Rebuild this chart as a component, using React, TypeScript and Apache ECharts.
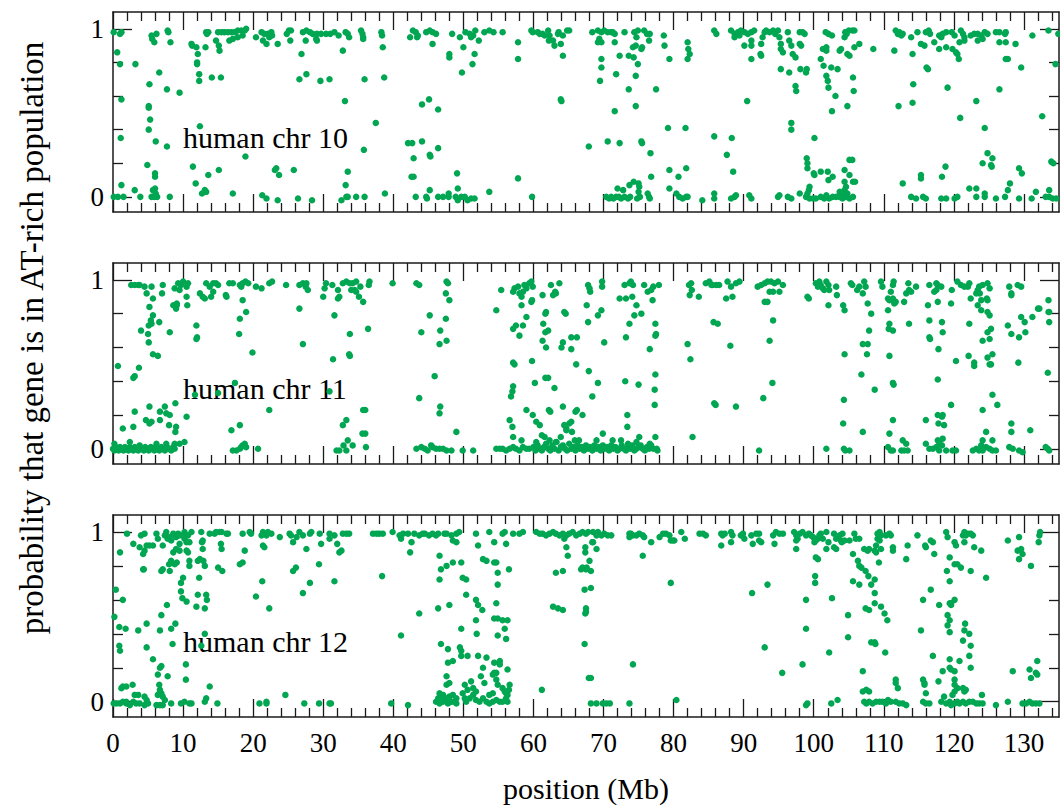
import React, { useEffect, useRef } from 'react';
import * as echarts from 'echarts';

const xMajorTicks = [0, 10, 20, 30, 40, 50, 60, 70, 80, 90, 100, 110, 120, 130];
const xMinorTicks = [2, 4, 6, 8, 12, 14, 16, 18, 22, 24, 26, 28, 32, 34, 36, 38, 42, 44, 46, 48, 52, 54, 56, 58, 62, 64, 66, 68, 72, 74, 76, 78, 82, 84, 86, 88, 92, 94, 96, 98, 102, 104, 106, 108, 112, 114, 116, 118, 122, 124, 126, 128, 132, 134];
const yMajorTicks = [0, 1];
const yMinorTicks = [0.2, 0.4, 0.6, 0.8];
const panelLabels = ['human chr 10', 'human chr 11', 'human chr 12'];
const xTitle = 'position (Mb)';
const yTitle = 'probability that gene is in AT-rich population';

const chr10: number[][] = [
[0.1,0.98],[1.0,0.97],[1.2,0.98],[0.6,0.86],[1.0,0.79],[3.2,0.79],[1.2,0.58],[1.1,0.35],
[0.1,0.0],[0.7,0.0],[1.5,0.0],[1.2,0.07],[3.1,0.04],[3.9,0.0],
[4.9,0.19],[5.2,0.67],[5.1,0.54],[5.1,0.53],[5.3,0.46],[5.1,0.40],
[5.5,0.96],[5.6,0.94],[5.9,0.92],[6.2,0.97],[6.6,0.74],[6.1,0.33],
[6.0,0.14],[6.0,0.12],[5.7,0.04],[6.0,0.05],[6.1,0.02],[5.5,0.0],[5.9,0.0],[6.3,0.0],
[7.8,0.99],[7.9,0.98],[8.2,0.92],[7.7,0.64],[7.7,0.30],[8.1,0.0],[9.5,0.62],
[11.2,0.91],[11.3,0.90],[11.9,0.89],[12.1,0.85],[12.0,0.80],[12.0,0.79],[12.3,0.73],[12.3,0.69],[12.4,0.42],
[13.2,0.89],[13.3,0.98],[13.6,0.98],[13.4,0.97],
[11.4,0.18],[11.8,0.08],[12.7,0.02],[13.1,0.04],[13.3,0.03],[13.6,0.13],
[14.1,0.71],[15.4,0.71],[14.7,0.93],[15.1,0.90],[15.2,0.87],
[15.0,0.98],[15.5,0.98],[15.9,0.98],[16.4,0.98],[16.9,0.98],[17.4,0.98],[17.8,0.99],[18.3,0.99],[18.8,0.99],[19.0,1.0],
[16.6,0.93],[17.1,0.94],[17.8,0.95],[18.5,0.96],
[15.1,0.16],[17.1,0.02],[18.9,0.24],[20.4,0.95],
[21.2,0.98],[21.6,0.97],[22.1,0.97],[22.6,0.98],[22.3,0.95],[22.7,0.96],[21.4,0.93],[21.9,0.91],[23.5,0.91],
[23.1,0.16],[23.3,0.17],[23.7,0.13],[21.3,0.01],[21.9,-0.01],[23.5,-0.02],
[25.1,0.99],[25.4,0.99],[24.8,0.97],[25.3,0.93],[25.8,0.16],[26.4,-0.01],
[26.9,0.85],[26.6,0.70],[27.6,0.73],
[27.1,0.98],[27.6,0.99],[28.1,0.98],[28.5,0.97],[29.1,0.97],[29.7,0.97],[30.4,0.97],[31.0,0.97],[31.6,0.98],[32.2,0.96],
[27.5,0.93],[29.0,0.94],[29.1,0.93],[29.6,0.69],[30.9,0.70],[28.4,-0.02],
[32.8,0.87],[33.1,0.57],[33.2,0.98],[33.5,0.97],[33.7,0.95],
[33.5,0.15],[33.2,0.07],[32.6,-0.02],[33.3,0.0],[33.5,0.0],[34.7,0.0],
[35.4,0.99],[35.6,0.97],[35.7,0.95],[35.7,0.94],[35.9,0.70],[35.8,0.28],[35.9,0.0],[37.5,0.44],
[38.3,0.98],[38.4,0.96],[38.5,0.89],[38.7,0.71],[38.8,0.02],
[42.4,0.95],[42.8,0.99],[43.2,0.98],[43.5,0.96],[43.4,0.95],
[42.1,0.32],[42.7,0.32],[42.9,0.23],[42.6,0.12],[42.9,0.12],[43.2,0.0],
[44.1,0.55],[45.1,0.58],[46.4,0.52],[44.1,0.33],[45.2,0.25],[45.3,0.24],[46.4,0.29],
[44.7,0.98],[45.2,0.99],[45.6,0.98],[46.1,0.97],[45.6,0.91],
[44.7,0.0],[44.8,-0.01],[45.2,0.04],[46.4,0.0],[47.1,0.0],[47.9,0.0],[47.9,0.02],
[48.0,0.85],[48.0,0.83],[48.4,0.97],[49.1,0.14],[49.2,0.05],
[48.9,0.0],[49.2,-0.02],[49.7,0.0],[50.2,0.0],[50.6,-0.02],[51.1,-0.01],[51.6,-0.01],
[49.5,0.95],[49.8,0.74],[50.0,0.89],[50.3,0.98],[50.9,0.97],[51.4,0.96],[51.7,0.99],[51.1,0.95],
[51.3,0.79],[51.6,0.85],[52.2,0.93],[53.0,0.98],[53.7,0.99],[54.3,0.98],[53.7,0.03],
[55.6,0.98],[57.8,0.92],[57.8,0.82],[57.8,0.11],[59.8,0.0],
[59.7,0.99],[59.9,0.98],[60.6,0.98],[60.9,0.97],[61.3,0.97],[61.6,0.96],[62.1,0.99],[62.3,0.96],[62.2,0.93],[62.8,0.93],[63.0,0.90],[63.5,0.97],[63.6,0.98],[63.9,0.91],[64.2,0.96],[64.8,0.99],[65.1,0.99],
[64.2,0.84],[63.9,0.58],[64.0,0.57],[67.9,0.30],
[68.4,0.98],[69.2,0.99],[69.7,0.98],[70.1,0.99],[70.6,0.98],[71.1,0.98],[71.3,0.98],[71.6,0.97],[69.4,0.94],[69.7,0.92],[69.2,0.92],[71.6,0.92],
[69.7,0.82],[69.7,0.77],[69.5,0.69],[70.6,0.33],[72.3,0.32],[71.6,0.51],[71.8,0.73],[72.3,0.84],[73.0,0.98],
[73.6,0.84],[74.3,0.83],[74.2,0.89],[74.6,0.90],[74.4,0.98],[74.9,0.99],[74.7,0.95],
[73.6,0.64],[74.6,0.72],[74.6,0.54],[74.9,0.79],[75.4,0.88],[75.5,0.89],
[75.8,0.99],[76.2,0.97],[76.6,0.97],[76.5,0.93],[75.4,0.33],[75.5,0.32],[76.7,0.26],[76.8,0.12],[77.5,0.64],
[78.6,0.96],[78.7,0.90],[79.4,0.82],[79.2,0.41],[79.4,0.16],[79.4,0.05],[80.7,0.12],[81.8,0.17],[81.7,0.41],
[82.0,0.92],[82.1,0.88],[82.3,0.85],[82.0,0.82],
[85.8,0.36],[85.8,0.99],[86.1,0.97],[88.3,0.35],[87.6,0.25],[88.5,0.15],
[88.2,0.99],[88.7,0.97],[89.2,0.98],[89.6,0.99],[89.4,0.96],[88.7,0.95],[90.1,0.90],[90.5,0.57],
[90.1,0.98],[90.6,0.97],[91.1,0.98],[91.5,0.99],[91.1,0.93],[91.1,0.90],[91.1,0.82],
[92.5,0.91],[92.7,0.95],[93.0,0.98],[92.5,0.84],[92.4,0.85],
[93.2,0.99],[93.7,0.98],[94.2,0.99],[94.5,0.97],[94.9,0.99],[95.1,0.95],[95.3,0.91],[95.3,0.88],[95.6,0.86],[96.3,0.98],[96.5,0.93],[96.8,0.90],[97.0,0.85],[97.4,0.83],
[95.3,0.76],[96.5,0.74],[97.4,0.66],[97.5,0.63],[96.8,0.44],[96.8,0.40],
[98.0,0.98],[98.4,0.98],[98.7,0.97],[98.2,0.90],[98.0,0.91],[98.1,0.76],[99.0,0.76],[98.9,0.74],
[100.1,0.35],[99.0,0.23],[99.1,0.20],[99.1,0.17],[100.0,0.14],[100.1,0.13],[101.0,0.15],[102.0,0.15],[102.1,0.10],[102.7,0.12],
[99.4,0.06],[99.3,0.04],[99.1,0.02],[98.9,0.0],[99.4,-0.01],[99.9,-0.01],[100.3,-0.01],[101.0,0.0],[101.5,-0.01],[101.8,0.01],[102.2,-0.01],[102.7,0.0],[103.2,0.0],[103.7,0.0],[104.1,-0.01],[104.6,0.0],[105.1,-0.01],[105.6,0.0],[104.4,0.09],[104.6,0.06],[104.4,0.04],[103.7,0.03],[104.1,0.02],[104.8,0.02],
[105.1,0.22],[105.5,0.22],[104.4,0.16],[105.1,0.13],[105.6,0.09],[105.9,0.09],
[101.0,0.82],[101.4,0.78],[101.8,0.72],[102.0,0.69],[102.1,0.65],[102.5,0.77],[103.1,0.60],[103.4,0.76],[102.6,0.51],
[101.7,0.98],[102.1,0.97],[102.6,0.96],[101.3,0.88],[101.8,0.89],[101.8,0.87],
[103.7,0.87],[103.9,0.88],[104.4,0.95],[104.5,0.98],[105.0,0.99],[105.5,0.99],[105.8,0.99],[104.7,0.97],[104.8,0.85],[105.1,0.84],[105.8,0.89],[106.5,0.91],[105.6,0.71],[105.7,0.63],[104.8,0.54],
[108.5,0.88],[111.5,0.87],
[111.7,0.99],[112.2,0.98],[112.0,0.97],[112.5,0.96],[112.7,0.97],[112.1,0.54],[112.7,0.08],
[113.9,0.95],[114.1,0.85],[114.2,0.67],[114.1,0.56],
[114.8,0.98],[115.3,0.91],[115.8,0.90],[116.0,0.98],[116.4,0.99],[116.6,0.97],[116.3,0.76],[116.1,0.77],[115.3,0.13],[115.3,0.11],
[113.9,0.0],[114.6,-0.01],[115.6,0.0],[116.0,-0.01],
[117.2,0.92],[117.9,0.96],[118.4,0.97],[118.2,0.95],[118.9,0.98],[117.9,0.88],[118.9,0.89],[119.1,0.65],[118.3,0.12],[118.8,0.18],[118.2,-0.01],[118.9,-0.01],
[119.7,0.98],[120.1,0.96],[119.8,0.88],[120.3,0.86],[120.5,0.85],[120.7,0.82],[121.0,0.99],[121.3,0.97],[121.5,0.95],[120.8,0.92],[121.5,0.93],[120.9,0.47],[120.1,-0.01],[120.5,0.0],
[122.2,0.05],[123.2,0.05],[123.2,0.0],
[122.4,0.96],[122.9,0.97],[123.4,0.97],[123.9,0.96],[124.4,0.98],[124.8,0.97],[124.1,0.94],[123.4,0.93],[123.2,0.57],[124.4,0.41],[124.8,0.26],[125.5,0.23],[124.1,0.20],[125.3,0.19],[125.4,0.18],[124.4,0.02],[124.4,0.0],
[126.0,0.98],[126.5,0.98],[127.4,0.98],[127.3,0.97],[126.5,0.92],[127.4,0.92],[128.8,0.91],[127.7,0.82],[127.4,0.82],[126.5,0.64],[126.0,-0.01],[127.3,0.0],[128.0,0.08],[127.7,0.04],[129.3,0.17],[129.7,0.14],
[129.6,0.77],[129.3,-0.01],
[131.2,0.96],[131.1,-0.01],[131.7,0.03],[132.6,0.48],[133.6,0.04],[133.9,0.21],[134.2,0.20],[133.6,0.0],[134.1,-0.01],[134.6,-0.01],[133.1,0.0],[134.5,0.79],[133.5,0.99],[134.9,0.97],
[70.4,0.0],[70.8,-0.01],[71.1,0.0],[71.4,-0.01],[71.8,0.0],[72.2,0.0],[72.5,-0.01],[73.0,0.0],[73.5,-0.01],[73.8,0.0],[72.0,0.05],[72.8,0.04],[73.7,0.07],[74.3,0.09],[75.0,0.08],[75.1,0.06],[75.0,0.03],[75.2,0.0],[74.8,-0.01],[76.3,0.02],[76.5,0.0],[76.6,-0.01],
[80.4,0.02],[80.8,0.0],[81.3,-0.01],[81.8,0.0],[82.0,0.0],[84.1,-0.02],[85.8,0.02],[85.8,-0.01],[88.2,-0.01],[88.7,0.0],[88.9,0.01],[90.8,0.01],[91.1,-0.01],[94.9,0.0],[95.1,0.01],[96.3,0.0],[96.8,-0.01],[98.0,0.02]
];

const chr11: number[][] = [
[0.0,0.0],[0.2,-0.01],[0.4,0.01],[0.6,0.0],[0.8,-0.01],[1.0,0.01],[1.2,0.0],[1.5,-0.01],[1.7,0.01],[1.9,0.0],[2.2,-0.01],[2.4,0.01],[2.7,0.0],[2.9,-0.01],[3.1,0.01],[3.4,0.0],[3.6,-0.01],[3.9,0.01],[4.1,0.0],[4.4,-0.01],[4.6,0.01],[4.9,0.0],[5.1,-0.01],[5.4,0.01],[5.6,0.0],[5.9,-0.01],[6.1,0.01],[6.4,0.0],[6.6,-0.01],[6.9,0.01],[7.1,0.0],[7.4,-0.01],[7.7,0.01],[8.0,0.0],[8.3,-0.01],[8.6,0.01],[8.8,0.0],
[0.2,0.03],[2.4,0.04],[3.8,0.02],[6.2,0.03],[7.6,0.03],[8.8,0.03],[9.5,0.03],[10.2,0.04],
[0.7,0.49],[2.9,0.42],[3.1,0.43],[3.7,0.48],[1.4,0.12],[2.9,0.13],[3.1,0.22],
[4.7,0.17],[5.2,0.25],[5.5,0.16],[5.2,0.15],
[6.7,0.22],[6.7,0.17],[7.4,0.25],[7.6,0.21],[8.1,0.20],[8.0,0.14],[8.9,0.27],[8.9,0.10],[9.0,0.13],[10.5,0.19],
[2.6,0.97],[3.1,0.97],[3.6,0.97],[3.8,0.97],
[4.5,0.96],[4.8,0.92],[5.5,0.96],[5.7,0.89],[5.2,0.84],[5.7,0.79],[5.4,0.76],[5.1,0.73],[5.5,0.74],[5.0,0.68],[5.1,0.63],[5.7,0.56],[6.4,0.55],[6.6,0.75],[4.0,0.70],[7.1,0.97],[7.0,0.92],[8.1,0.69],
[8.6,0.85],[8.8,0.95],[9.1,0.86],[9.0,0.83],[9.3,0.98],[9.5,0.94],[9.7,0.97],[10.0,0.99],[10.5,0.96],[10.5,0.90],[10.7,0.98],[10.6,0.85],[9.1,0.85],
[11.9,0.73],[12.0,0.66],[11.9,0.65],
[12.4,0.92],[12.8,0.90],[13.1,0.89],[13.3,0.98],[13.8,0.96],[14.0,0.90],[14.3,0.93],[14.3,0.98],[14.7,0.98],[15.0,0.97],[16.1,0.91],[16.2,0.90],
[11.7,0.32],[15.0,0.33],[16.9,0.11],[18.1,0.14],[16.6,0.98],[17.1,0.98],
[18.1,0.97],[18.3,0.96],[18.5,0.98],[18.9,0.99],[19.3,0.98],[18.5,0.88],[19.0,0.81],[18.1,0.77],[18.0,0.68],
[17.4,0.39],[19.9,0.57],
[17.1,-0.01],[17.6,-0.01],[18.1,0.0],[18.3,0.01],[18.5,0.02],[18.8,0.03],[19.0,0.01],
[20.4,0.96],[21.2,0.95],[20.7,0.0],[22.3,0.98],[22.7,0.99],[22.3,0.23],[24.7,0.97],
[26.6,0.97],[27.1,0.98],[27.6,0.98],[27.5,0.96],[27.8,0.94],[26.6,0.83],[27.1,0.62],
[30.0,0.90],[30.4,0.98],[30.2,0.95],[31.3,0.97],[32.1,0.94],[31.6,0.79],[32.1,0.89],[32.3,0.90],[32.8,0.98],[33.3,0.99],[33.8,0.98],[34.2,0.98],[34.7,0.99],[34.0,0.94],[34.5,0.94],[34.7,0.93],[35.1,0.90],[35.7,0.87],[35.3,0.96],[36.6,0.99],[36.5,0.97],
[31.4,0.53],[33.8,0.68],[33.7,0.56],[33.8,0.55],[36.4,0.71],[30.9,0.34],
[32.8,0.14],[33.3,0.17],[33.5,0.05],[35.6,0.09],[36.0,0.09],[35.7,0.23],[36.0,0.23],[36.1,0.01],[32.9,0.02],[31.9,-0.01],[32.3,-0.01],[33.3,-0.01],[34.2,0.02],
[39.9,0.98],[43.3,0.98],[43.7,0.97],[44.0,0.69],[43.7,0.30],
[45.2,0.79],[45.9,0.43],[46.6,0.62],[46.7,0.70],[46.7,0.25],[46.6,0.21],[47.5,0.77],[47.6,0.64],[47.8,0.98],[47.6,0.99],[47.5,0.92],[48.0,0.88],
[43.3,0.0],[44.0,0.01],[44.5,0.0],[44.9,-0.01],[45.4,0.02],[45.6,0.01],[46.1,0.0],[46.6,0.0],[47.1,0.0],[47.6,-0.01],[48.3,-0.01],[49.0,0.10],[49.9,-0.01],[51.4,-0.01],
[54.7,0.82],[55.4,0.94],
[54.7,0.0],[55.2,0.0],[55.6,0.0],[56.1,-0.01],[56.6,0.0],[57.1,0.01],[57.5,0.0],[58.0,-0.01],[58.5,0.01],[59.0,0.0],[59.4,0.0],
[57.1,0.93],[57.3,0.95],[57.8,0.96],[58.0,0.92],[58.3,0.90],[58.5,0.93],[58.7,0.97],[59.0,0.95],[59.4,0.98],[59.7,0.99],[59.9,0.96],[58.3,0.85],[59.8,0.88],[59.7,0.87],[59.0,0.78],[58.5,0.73],[57.5,0.73],[57.1,0.71],[58.0,0.67],[57.3,0.50],[57.1,0.51],[57.1,0.37],[57.0,0.34],[56.8,0.31],[56.6,0.17],[57.0,0.13],[57.1,0.07],[58.3,0.05],[59.0,0.23],[59.8,0.52],[59.9,0.20],[60.4,0.16],[60.9,0.14],[61.2,0.08],[61.6,0.07],[60.2,0.39],
[61.3,0.91],[61.8,0.81],[62.5,0.97],[62.8,0.91],[63.1,0.93],[63.7,0.98],[61.7,0.80],[61.4,0.74],[61.3,0.64],[61.7,0.69],[61.8,0.60],[62.1,0.70],[61.7,0.42],[62.1,0.42],[63.0,0.36],[62.2,0.23],[62.4,0.22],[63.2,0.92],[64.2,0.25],[64.4,0.81],[64.2,0.63],[64.4,0.14],[64.7,0.12],[65.1,0.15],[65.4,0.16],[65.4,0.59],[65.4,0.66],[66.2,0.66],[66.1,0.50],[66.0,0.22],[66.2,0.23],[67.0,0.20],[67.6,0.85],[67.8,0.75],[67.9,0.46],
[60.0,0.01],[60.3,-0.01],[60.6,0.02],[60.9,0.0],[61.2,-0.01],[61.5,0.01],[61.8,0.03],[62.1,0.0],[62.4,-0.01],[62.7,0.02],[63.0,0.0],[63.3,0.04],[63.6,-0.01],[63.9,0.01],[64.2,0.02],[64.5,0.0],[64.8,-0.01],[65.1,0.03],[65.4,0.0],[65.7,0.01],[66.0,-0.01],[66.3,0.02],[66.6,0.0],[66.9,0.01],[67.2,-0.01],[67.5,0.02],[67.8,0.0],
[60.4,0.04],[62.3,0.05],[63.2,0.04],[63.9,0.07],[65.9,0.05],
[64.6,0.80],[64.0,0.60],[64.7,0.11],[65.5,0.10],[66.5,0.05],
[68.1,0.01],[68.4,-0.01],[68.7,0.02],[69.0,0.0],[69.3,0.01],[69.6,-0.01],[69.9,0.02],[70.2,0.0],[70.5,0.01],[70.8,-0.01],[71.1,0.02],[71.4,0.0],[71.7,0.01],[72.0,-0.01],[72.3,0.0],[72.6,0.02],[72.9,0.0],[73.2,-0.01],[73.5,0.01],[73.8,0.0],[74.1,0.02],[74.4,-0.01],[74.7,0.0],[75.0,0.01],[75.3,0.02],[75.6,0.0],[75.9,-0.01],[76.2,0.01],[76.5,0.0],[76.8,0.02],[77.1,0.0],[77.6,0.0],
[67.8,0.97],[68.0,0.95],[68.1,0.93],[69.8,0.99],[69.8,0.96],[69.2,0.79],[69.7,0.82],[70.1,0.63],[69.2,0.39],[68.4,0.31],
[69.9,0.09],[69.0,0.05],[71.3,0.05],[72.5,0.05],[73.5,0.03],[74.7,0.04],[75.1,0.07],[76.6,0.03],
[72.3,0.89],[73.2,0.89],[73.0,0.97],[73.7,0.98],[73.9,0.99],[74.2,0.97],[74.1,0.90],[74.7,0.85],[75.4,0.80],[74.4,0.79],[73.7,0.74],[73.2,0.66],[73.1,0.40],[73.4,0.20],[73.4,0.13],[75.0,0.38],[75.8,0.97],[76.3,0.93],[76.8,0.94],[77.1,0.96],[77.0,0.88],[77.9,0.97],[77.4,0.74],[77.5,0.68],[77.4,0.67],[76.6,0.59],[77.4,0.44],[77.3,0.35],[77.3,0.26],[77.4,0.07],[77.7,-0.01],
[82.0,0.62],[82.4,0.53],[82.2,0.97],[82.5,0.98],[82.6,0.94],[82.3,0.91],[83.6,0.90],[82.7,0.07],
[84.6,0.98],[85.1,0.99],[85.4,0.97],[85.6,0.97],[86.1,0.97],[86.5,0.97],[85.7,0.75],[86.3,0.74],[85.8,0.27],[86.0,0.26],[87.5,0.89],[87.7,0.99],[88.2,0.96],[88.4,0.90],[88.9,0.98],[89.4,0.99],[88.1,0.61],[88.9,0.25],
[92.2,-0.01],
[92.0,0.96],[92.5,0.97],[93.0,0.98],[93.4,0.99],[93.9,0.99],[94.4,0.98],[94.9,0.99],[95.6,0.97],[93.7,0.93],[94.2,0.93],[95.1,0.93],[93.0,0.87],[93.4,0.87],[94.2,0.76],[93.7,0.64],[94.1,0.39],[92.8,0.30],
[99.1,0.90],[99.3,0.89],
[100.3,0.98],[100.6,0.96],[100.8,0.99],[101.0,0.97],[101.3,0.95],[101.5,0.94],[101.8,0.99],[102.1,0.97],[102.2,0.94],[103.2,0.96],[103.3,0.91],[102.1,0.85],
[101.8,0.0],
[104.2,0.85],[104.4,0.82],[104.4,0.56],[104.3,0.29],[104.2,0.15],[104.3,0.0],[104.5,-0.01],[105.1,-0.01],
[105.3,0.98],[105.5,0.97],[106.2,0.94],[106.5,0.96],[107.0,0.92],[107.2,0.99],[107.4,0.96],[107.7,0.86],[108.2,0.80],[107.9,0.70],[107.0,0.62],[107.7,0.62],[107.6,0.56],[106.8,0.44],[107.0,0.10],[108.7,0.35],
[109.6,0.99],[109.8,0.96],[110.6,0.82],[110.8,0.74],[110.7,0.71],[111.3,0.70],[110.8,0.55],[111.3,0.39],[111.4,0.38],[110.8,0.09],[111.3,0.17],[111.4,0.99],[111.3,0.97],[111.0,0.93],[110.6,0.89],[110.8,0.88],[111.3,0.89],[111.7,0.87],[111.5,0.86],
[110.6,0.01],[111.0,-0.01],[111.3,-0.01],[112.5,-0.01],[112.7,0.05],[113.2,0.03],[113.4,-0.01],[112.9,-0.01],
[112.9,0.87],[113.2,0.92],[113.6,0.94],[113.9,0.93],[113.5,0.98],[114.6,0.96],[113.6,0.74],
[116.5,0.97],[116.3,0.85],[116.5,0.76],[116.5,0.66],[116.6,0.65],[117.8,0.59],[117.7,0.41],[116.0,0.17],[117.7,0.20],[118.4,0.20],[117.8,0.15],[118.6,0.14],[118.3,0.19],[117.7,0.05],[118.4,0.06],[117.9,0.04],[118.3,0.02],
[117.5,0.98],[117.7,0.97],[117.2,0.93],[117.5,0.94],[118.2,0.96],[117.7,0.87],[118.3,0.75],[118.4,0.69],[117.5,0.01],[116.0,0.03],[116.5,0.0],[117.0,0.0],[117.9,-0.01],[118.9,-0.01],[119.8,-0.01],[120.3,-0.01],
[119.7,0.94],[119.6,0.86],[120.3,0.52],[119.6,0.26],
[120.5,0.99],[121.0,0.97],[121.5,0.96],[122.0,0.96],[122.2,0.98],[122.4,0.89],[122.2,0.74],[122.1,0.55],[122.9,0.51],[122.9,0.49],[124.1,0.23],[124.6,0.10],[125.5,0.32],[126.2,0.26],[125.5,0.05],[124.1,0.05],
[122.7,-0.01],[123.2,0.0],[123.6,-0.01],[124.1,-0.01],[124.6,0.01],[125.1,0.0],[125.5,-0.01],[126.0,-0.01],[123.9,0.02],
[123.2,0.92],[123.4,0.94],[123.6,0.96],[123.4,0.85],[123.9,0.88],[123.9,0.82],[123.7,0.92],[124.1,0.97],[124.8,0.98],[125.1,0.95],[124.7,0.89],[124.8,0.88],[124.8,0.81],[125.1,0.79],[124.8,0.69],[125.3,0.71],[124.1,0.64],[125.1,0.65],[124.8,0.54],[125.5,0.56],[125.1,0.50],[125.3,0.50],
[127.9,0.96],[128.2,0.92],[128.2,0.91],[129.1,0.97],[129.6,0.96],[127.7,0.73],[128.2,0.68],[129.3,0.66],[129.6,0.78],[130.1,0.75],[130.2,0.69],[129.2,0.51],[128.2,0.15],[128.2,0.10],[128.4,0.0],[129.3,-0.01],[129.8,-0.02],[127.9,0.01],
[130.9,0.11],[131.2,0.78],[132.0,0.83],[132.2,0.83],[133.5,0.88],[133.5,0.81],[133.6,0.81],[133.6,0.75],[133.4,0.45],[133.1,0.01],[133.4,0.0],[133.6,-0.01]
];

const chr12: number[][] = [
[0.1,-0.01],[0.5,-0.01],[1.0,-0.01],[1.4,0.0],[1.9,-0.01],[2.4,-0.02],[2.9,0.0],[3.3,-0.01],[3.8,-0.01],[4.5,-0.02],[5.0,-0.01],[6.2,-0.02],[6.7,-0.02],[7.1,-0.02],[8.3,-0.01],[9.7,-0.01],[10.2,0.0],[10.9,-0.01],[11.2,-0.01],
[1.2,0.08],[1.4,0.09],[1.9,0.09],[2.8,0.10],[1.9,0.0],[3.1,0.04],[3.6,0.04],[4.5,0.03],[4.8,0.01],[6.4,0.04],[6.7,0.06],[6.9,0.05],[7.1,0.03],[7.4,0.01],[6.7,0.07],[6.6,0.10],[6.4,0.16],[6.7,0.20],[6.9,0.21],[7.8,0.15],[10.4,0.13],[10.4,0.22],[13.8,0.09],[13.3,0.02],[13.1,0.0],[14.9,-0.01],
[0.9,0.33],[1.0,0.30],[0.9,0.44],[1.8,0.43],[3.6,0.42],[4.8,0.32],[4.8,0.46],[5.7,0.25],[6.9,0.51],[6.7,0.42],[7.7,0.57],[8.3,0.43],[8.5,0.34],[8.9,0.46],[1.4,0.60],[0.4,0.66],[0.2,0.50],
[1.0,0.88],[2.0,0.99],[2.9,0.93],[3.8,0.91],[4.0,0.98],[4.3,0.87],[4.5,0.89],[4.5,0.99],[4.8,0.92],[5.2,0.92],[4.3,0.78],[4.4,0.78],
[5.7,0.92],[6.2,0.99],[6.4,0.96],[6.9,0.77],[7.1,0.92],[7.1,0.78],[7.4,0.98],[7.6,1.0],[7.8,0.96],[8.0,0.81],[8.1,0.97],[8.3,0.83],[8.1,0.77],[8.3,0.95],[8.6,0.99],[8.6,0.88],[8.8,0.81],[9.0,0.97],[9.0,0.90],[9.3,0.99],[9.5,0.98],[9.5,0.93],[9.5,0.89],[10.0,0.98],[10.2,1.0],[10.2,0.96],[10.5,0.94],[10.5,0.89],[10.7,0.98],[10.9,0.94],[10.9,0.83],[11.2,1.0],[10.0,0.73],[9.7,0.70],[9.7,0.65],[9.9,0.61],[10.5,0.59],[9.1,0.82],[10.7,0.88],[10.9,0.80],
[11.9,0.56],[12.1,0.63],[12.3,0.73],[13.1,0.55],[13.3,0.63],[13.4,0.60],[12.1,0.83],[12.4,0.84],[12.6,1.0],[12.7,0.94],[12.8,0.90],[12.9,0.83],[13.1,0.80],[12.8,0.95],[12.6,0.33],[13.1,0.40],[13.8,0.99],
[14.5,0.99],[14.7,1.0],[15.2,1.0],[15.5,1.0],[16.2,0.99],[16.4,0.99],[15.4,0.93],[15.5,0.90],[15.0,0.79],[15.6,0.77],
[18.1,0.81],[18.5,0.82],[18.8,0.89],[18.5,0.99],[19.5,1.0],[19.7,0.99],[20.4,0.62],[21.2,0.98],[21.3,0.71],[21.4,1.0],[21.6,0.99],[21.9,0.98],[22.1,1.0],[22.6,0.99],[21.4,0.92],[21.6,0.91],[22.3,0.55],
[20.9,-0.01],[21.9,0.0],[21.9,-0.01],[24.6,0.04],[27.3,-0.01],[29.4,-0.01],[30.9,-0.01],[31.1,-0.01],
[23.8,0.97],[25.2,0.99],[25.4,0.98],[25.7,0.94],[26.2,0.97],[26.6,1.0],[27.1,0.98],[27.6,0.90],[28.1,0.99],[28.3,1.0],[29.5,0.99],[29.7,0.93],[25.7,0.77],[26.1,0.79],[27.1,0.64],[28.1,0.70],[29.4,0.81],[31.6,0.71],[30.9,0.99],[30.9,0.96],[31.6,0.98],[32.0,0.93],[32.3,0.88],[32.6,0.89],[32.8,0.99],[33.3,0.99],[33.7,0.99],
[38.4,0.74],
[37.1,0.99],[37.6,0.99],[38.0,0.99],[38.5,0.99],[39.9,1.0],[40.9,0.98],[41.1,0.96],[41.4,0.99],[42.1,0.99],[42.6,0.94],[43.0,0.99],[43.7,0.98],[44.2,0.99],[44.5,0.99],[45.1,0.98],[45.6,0.99],[46.1,0.98],[46.4,0.99],[47.3,0.99],[47.6,0.99],[48.3,0.98],[49.0,0.99],[48.5,0.95],[49.0,0.94],[49.4,1.0],
[43.7,0.52],[41.1,0.39],[42.4,0.88],[39.7,-0.01],[42.1,-0.02],
[46.6,0.86],[46.8,0.78],[46.6,0.72],[47.6,0.80],[48.5,0.82],[49.7,0.82],[49.9,0.73],[50.4,0.72],[46.4,0.55],[48.0,0.57],[49.7,0.43],[50.4,0.63],
[46.8,0.34],[47.8,0.31],[49.5,0.32],[49.7,0.30],[49.7,0.27],[48.5,0.24],[50.6,0.27],[47.8,0.23],[47.6,0.15],[47.6,0.10],[48.0,0.11],[46.6,0.05],[47.1,0.04],[47.6,0.02],[48.0,0.03],[48.5,0.04],[49.0,0.02],[46.1,0.0],[46.6,-0.01],[47.1,0.0],[47.8,-0.01],[48.3,0.0],[48.7,0.0],[49.0,-0.01],[46.4,0.02],[46.8,0.02],
[49.9,0.05],[50.2,0.02],[50.4,0.0],[50.9,0.02],[51.4,0.04],[51.8,0.01],[52.3,0.0],[52.8,0.02],[53.3,0.0],[53.7,-0.01],[54.2,0.0],[54.7,0.01],[55.2,0.0],[55.6,0.0],[56.1,0.02],[56.3,0.04],[56.5,0.07],[56.6,0.10],[56.3,0.0],[51.1,0.12],[51.8,0.06],[52.5,0.15],[51.4,0.08],[53.0,0.11],[52.1,0.27],[53.3,0.26],[52.8,0.20],[54.2,0.16],[54.7,0.13],[54.9,0.10],[55.2,0.22],[54.4,0.23],[55.2,0.24],[56.3,0.19],[54.4,0.17],[54.7,0.17],[50.2,0.10],[50.6,0.07],[53.7,0.04],[54.2,0.05],[55.6,0.08],[55.9,0.06],[56.1,0.05],
[51.8,0.60],[52.1,0.57],[52.7,0.54],[51.8,0.48],[51.9,0.40],[54.4,0.49],[54.9,0.49],[55.6,0.48],[56.3,0.48],[54.7,0.58],[55.9,0.43],[54.9,0.39],[56.1,0.37],[52.1,0.92],[52.8,0.84],[53.3,0.83],[53.7,1.0],[54.4,0.94],[54.4,0.82],[54.7,0.82],[54.9,0.76],[54.9,0.69],[55.6,0.99],[55.9,1.0],[56.1,0.93],[56.5,0.78],
[51.8,0.99],[58.0,0.99],[57.1,0.99],[58.5,1.0],
[60.4,1.0],[60.9,0.99],[61.3,0.99],[61.8,0.98],[62.3,0.99],[62.8,1.0],[63.2,0.99],[63.7,0.98],[64.2,0.99],[64.7,0.98],[65.1,0.99],[65.6,1.0],[66.1,0.98],[66.6,0.99],[67.0,1.0],[67.5,0.99],[67.8,1.0],[64.4,0.96],[64.7,0.91],[64.9,0.86],[63.2,0.76],[64.2,0.77],[62.8,0.56],[63.5,0.55],[64.2,0.54],[67.0,0.79],[67.5,0.78],[67.3,0.66],[67.5,0.55],[67.5,0.53],[67.3,0.34],[61.2,0.07],[67.9,0.14],
[68.5,1.0],[69.0,0.98],[69.2,1.0],[69.7,0.98],[70.1,0.99],[70.6,0.98],[71.1,0.98],
[67.4,0.91],[67.4,0.88],[68.0,0.83],[68.4,0.94],[68.5,0.94],[69.0,0.90],[66.8,0.78],[67.6,0.79],[68.2,0.77],[68.2,0.67],[67.4,0.52],[68.2,0.14],[68.2,-0.01],[69.0,-0.01],[69.9,-0.01],[70.4,-0.01],[70.9,-0.01],
[73.7,0.99],[74.2,0.98],[74.7,0.98],[75.1,0.99],[75.6,0.98],[75.8,0.97],[73.7,0.97],[73.9,0.99],[76.8,0.94],[75.6,0.86],[74.2,0.22],[73.7,-0.01],
[78.0,0.97],[78.5,0.99],[78.9,0.99],[79.4,0.98],[79.6,0.95],[79.9,0.95],[80.1,0.95],[81.1,1.0],[81.6,0.96],[79.6,0.70],[80.4,0.01],
[83.7,0.99],[84.2,0.99],[84.6,0.98],[86.8,0.99],[87.0,0.98],[87.3,0.99],[88.2,1.0],[88.4,0.98],[86.8,0.92],[88.2,0.94],[89.6,0.98],[89.9,0.99],[90.1,0.96],[91.1,0.98],[91.3,0.93],[91.8,0.99],[92.2,0.99],[92.2,0.95],[92.5,0.94],[91.2,0.64],[93.4,0.69],[93.0,0.32],[94.2,0.98],[94.4,0.93],[94.6,1.0],[95.1,0.99],[95.6,0.99],[95.5,0.17],
[97.2,1.0],[97.5,0.98],[97.7,0.96],[98.0,0.99],[97.5,0.95],[97.5,0.90],[98.4,1.0],[98.9,0.98],[99.3,0.99],[99.6,0.98],[99.9,0.97],[100.1,0.94],[100.3,0.95],[100.6,0.96],[100.8,0.98],[101.0,0.99],[101.3,0.96],[101.8,1.0],[102.1,0.94],[100.6,0.84],[100.3,0.85],[100.2,0.74],[100.2,0.70],[98.9,0.60],[98.9,0.43],[98.4,0.22],[99.1,-0.01],[98.9,-0.02],
[101.8,0.90],[102.6,0.61],[102.2,0.29],[102.5,-0.01],[103.4,0.01],
[102.9,0.99],[103.2,0.96],[103.7,0.98],[103.9,0.95],[104.0,0.94],[104.1,0.99],[102.9,0.91],[103.2,0.90],[104.4,0.95],[105.1,0.95],[105.8,0.99],[105.6,0.87],[106.0,0.96],[106.5,0.96],[106.3,0.83],[106.5,0.80],[106.8,0.79],[105.6,0.71],[106.5,0.69],[107.4,0.77],[107.8,0.74],[108.2,0.69],[108.7,0.72],[108.7,0.64],[104.9,0.51],[104.9,0.38],[107.0,0.18],[107.4,0.55],[107.9,0.54],[108.7,0.58],[109.6,0.56],[110.1,0.52],[108.2,0.35],[108.7,0.35],[108.8,0.34],[110.2,0.29],[110.5,0.48],
[107.0,0.06],[107.5,0.07],[107.9,0.06],[107.2,0.0],[107.5,-0.01],[107.9,0.0],[108.4,-0.01],[108.9,0.0],[109.4,0.0],[109.8,0.0],[110.3,-0.01],[110.6,0.01],[111.0,0.0],[111.7,0.0],[112.2,-0.01],[112.7,-0.01],[113.2,-0.02],[111.7,0.13],[111.7,0.11],[112.0,0.08],
[107.2,0.90],[107.7,0.89],[107.9,0.90],[108.7,0.89],[108.9,0.88],[108.9,0.92],[109.1,0.96],[109.1,0.99],[109.4,1.0],[109.6,0.98],[109.4,0.95],[109.3,0.82],[109.6,0.90],[110.3,0.98],[110.8,0.99],[111.0,0.98],[111.3,0.91],[111.3,0.89],[113.2,0.84],[113.4,0.92],
[114.8,0.98],[115.9,0.92],[116.0,0.91],[116.7,0.95],[117.0,0.94],[117.2,0.87],[116.7,0.66],[115.6,0.60],[117.9,0.57],[115.3,0.42],[117.0,0.27],[115.6,0.13],[115.8,0.11],[115.8,0.10],[116.0,0.05],[117.8,0.12],[118.4,0.18],[118.6,0.03],[115.6,0.0],[116.0,-0.01],[116.5,-0.01],
[118.9,1.0],[119.1,0.97],[119.4,0.85],[119.0,0.77],[119.4,0.71],[119.4,0.58],[119.6,0.58],[120.1,0.60],[119.6,0.57],[119.1,0.51],[119.4,0.48],[119.1,0.45],[119.4,0.41],[119.4,0.25],[119.4,0.20],[119.6,0.19],[120.1,0.18],[120.1,0.13],[120.1,0.10],[120.1,0.06],[119.8,0.04],[118.2,0.0],[118.9,-0.01],[119.4,0.0],[119.6,-0.02],[120.1,-0.01],[120.5,0.0],[120.8,-0.01],[121.3,0.0],[121.7,-0.01],[122.2,0.0],[122.7,0.0],[123.2,-0.01],[123.6,-0.01],[124.1,-0.01],
[120.1,0.94],[120.3,0.92],[120.1,0.81],[120.5,0.81],[121.0,0.79],[121.3,0.98],[121.5,1.0],[121.7,0.98],[122.0,0.99],[122.4,0.99],[122.7,0.98],[121.5,0.94],[122.9,0.91],[123.9,0.89],[122.4,0.77],[124.6,0.73],[120.8,0.24],[121.3,0.36],[121.5,0.42],[121.6,0.46],[122.2,0.40],[122.4,0.33],[122.2,0.27],[122.4,0.20],[121.3,0.08],[121.7,0.07],[121.5,0.06],[120.5,0.08],[124.0,0.04],
[126.0,-0.02],[127.7,0.0],[127.7,0.95],[128.4,0.18],[129.3,0.97],[129.1,0.89],[129.6,0.90],[129.8,0.87],[129.3,0.84],[131.0,0.80],[129.8,-0.01],[130.3,-0.01],[130.8,0.0],[131.2,-0.01],[131.7,-0.01],[132.2,-0.01],[130.8,0.19],[131.0,0.14],[131.7,0.17],[131.9,0.24],[132.1,0.94],[132.2,0.98],[132.3,1.0],[131.9,0.16]
];

const panels = [chr10, chr11, chr12];

const FONT = '"Liberation Serif", "Times New Roman", "DejaVu Serif", serif';
const FRAME = '#1a1a1a';
const POINT = '#00a651';

export default function App() {
  const ref = useRef<HTMLDivElement>(null);
  useEffect(() => {
    if (!ref.current) return;
    const chart = echarts.init(ref.current, undefined, { renderer: 'svg' });
    const tops = [12, 263, 515];
    const heights = [200, 201, 202];
    const grids: any[] = [];
    const xAxes: any[] = [];
    const yAxes: any[] = [];
    const series: any[] = [];
    const lineStyle = { color: FRAME, width: 1.5 };
    const tickStyle = { color: FRAME, width: 1.3 };
    panels.forEach((data, i) => {
      grids.push({ left: 113, width: 946, top: tops[i], height: heights[i], containLabel: false });
      const xBase = (pos: string, major: boolean, labels: boolean) => ({
        gridIndex: i, type: 'value', min: 0, max: 135, position: pos,
        axisLine: { show: major, onZero: false, lineStyle },
        axisTick: { show: true, inside: true, length: major ? 18 : 9, customValues: major ? xMajorTicks : xMinorTicks, lineStyle: tickStyle },
        axisLabel: { show: labels, customValues: xMajorTicks, fontSize: 27, fontFamily: FONT, color: '#000', margin: 12 },
        splitLine: { show: false },
      });
      xAxes.push(xBase('bottom', true, i === 2));
      xAxes.push(xBase('bottom', false, false));
      xAxes.push(xBase('top', true, false));
      xAxes.push(xBase('top', false, false));
      const yBase = (pos: string, major: boolean, labels: boolean) => ({
        gridIndex: i, type: 'value', min: -0.09, max: 1.1, position: pos,
        axisLine: { show: major, onZero: false, lineStyle },
        axisTick: { show: true, inside: true, length: major ? 19 : 10, customValues: major ? yMajorTicks : yMinorTicks, lineStyle: tickStyle },
        axisLabel: { show: labels, customValues: yMajorTicks, fontSize: 27, fontFamily: FONT, color: '#000', margin: 9 },
        splitLine: { show: false },
      });
      yAxes.push(yBase('left', true, true));
      yAxes.push(yBase('left', false, false));
      yAxes.push(yBase('right', true, false));
      yAxes.push(yBase('right', false, false));
      series.push({
        type: 'scatter', xAxisIndex: 4 * i, yAxisIndex: 4 * i, data,
        symbol: 'circle', symbolSize: 6.5, silent: true,
        itemStyle: { color: POINT, opacity: 1 },
      });
    });
    const labelYs = [137, 388.5, 641];
    const graphic: any[] = panelLabels.map((t, i) => ({
      type: 'text', x: 183, y: labelYs[i], silent: true,
      style: { text: t, font: `30px ${FONT}`, fill: '#000', textAlign: 'left', textVerticalAlign: 'middle' },
    }));
    graphic.push({
      type: 'text', x: 586, y: 788, silent: true,
      style: { text: xTitle, font: `30px ${FONT}`, fill: '#000', textAlign: 'center', textVerticalAlign: 'middle' },
    });
    graphic.push({
      type: 'text', x: 32, y: 338, rotation: Math.PI / 2, silent: true,
      style: { text: yTitle, font: `33px ${FONT}`, fill: '#000', textAlign: 'center', textVerticalAlign: 'middle' },
    });
    chart.setOption({
      animation: false,
      backgroundColor: '#fff',
      textStyle: { fontFamily: FONT },
      grid: grids,
      xAxis: xAxes,
      yAxis: yAxes,
      series,
      graphic,
    });
    return () => chart.dispose();
  }, []);
  return <div ref={ref} style={{ position: 'fixed', left: 0, top: 0, width: 1060, height: 805, background: '#fff' }} />;
}
